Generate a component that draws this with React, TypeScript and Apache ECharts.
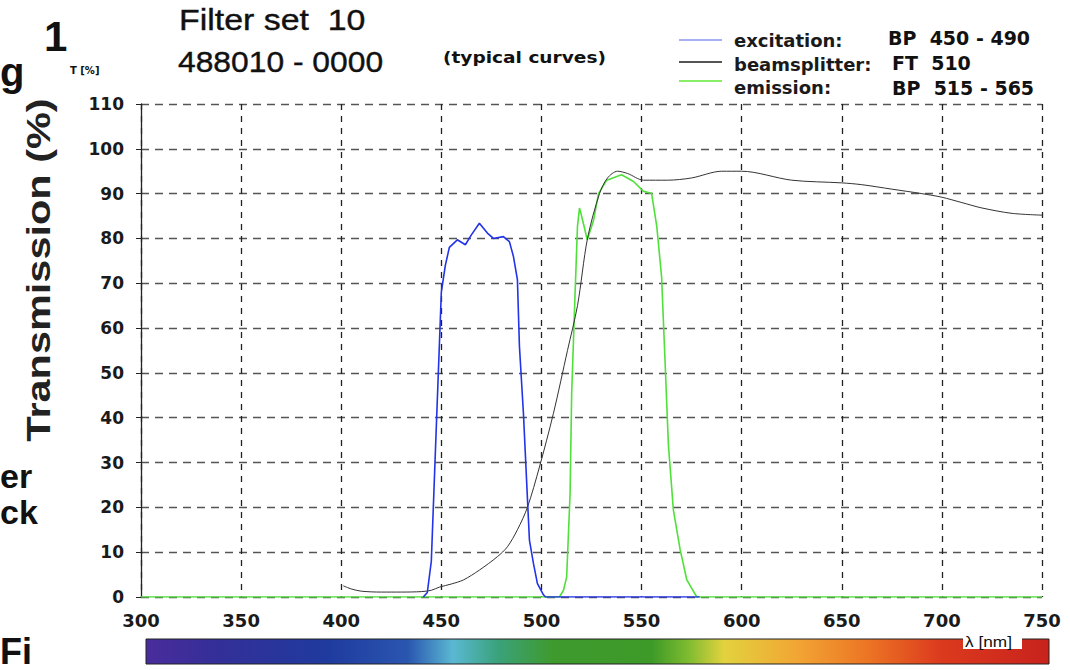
import React, { useEffect, useRef } from "react";
import * as echarts from "echarts";

const xTicks = [300, 350, 400, 450, 500, 550, 600, 650, 700, 750];
const yTicks = [0, 10, 20, 30, 40, 50, 60, 70, 80, 90, 100, 110];

const exWl = [441, 443, 445, 447, 449, 450, 452, 454, 458, 462, 465, 469, 473, 476, 481, 484, 486, 488, 489, 491, 493, 494, 496, 498, 501, 502, 579];
const exT = [0, 1, 8, 32, 56, 68, 74, 78, 79.7, 78.6, 80.8, 83.4, 81.2, 80, 80.4, 79.3, 76, 70.8, 56, 41, 22, 12.7, 7.5, 3, 0.5, 0, 0];

const bsWl = [401, 405, 410, 420, 430, 440, 445, 449, 455, 461, 469, 478, 483, 488, 493, 499, 506, 513, 518, 523, 529, 533, 538, 543, 551, 563, 575, 590, 600, 625, 650, 660, 675, 690, 700, 710, 720, 735, 750];
const bsT = [2.5, 1.8, 1.3, 1.1, 1.1, 1.2, 1.5, 2.2, 2.9, 3.8, 6, 9, 11.2, 15, 20, 29, 41, 55, 65, 80, 90, 93.5, 95, 94.5, 93, 93, 93.5, 95, 95, 93, 92.4, 92, 91, 90, 89.2, 88, 86.8, 85.6, 85.2];

const emWl = [300, 509, 511, 512.6, 514.3, 515.1, 516.8, 518, 519, 520.1, 522.9, 526, 528.5, 532.6, 540, 546, 551, 555, 557.6, 560, 561.7, 563.4, 565.9, 569.3, 572.6, 577.6, 750];
const emT = [0, 0, 1.5, 4.5, 23, 45.5, 67.8, 82.7, 86.8, 84.9, 79.7, 84, 90, 93, 94.2, 92.7, 90.5, 90.1, 82.7, 71.5, 53, 34, 19.4, 10.5, 3.8, 0, 0];

const legendNames = ["excitation:", "beamsplitter:", "emission:"];
const legendFilters = ["BP  450 - 490", "FT  510", "BP  515 - 565"];

const pairs = (xs: number[], ys: number[]) => xs.map((x, i) => [x, ys[i]]);

export default function App() {
  const ref = useRef<HTMLDivElement>(null);
  useEffect(() => {
    const chart = echarts.init(ref.current!, null, { renderer: "svg" });
    const font = "Liberation Sans, Arial, sans-serif";
    const wide = "DejaVu Sans, Verdana, sans-serif";
    const legendColors = ["#a8b0f4", "#555555", "#88ee66"];
    const lineY = [40, 62, 81];
    const labelY = [40, 64, 87];
    const filterY = [38, 63, 88];
    const filterX = [888, 892, 892];
    const graphics: any[] = [];
    legendNames.forEach((n, i) => {
      graphics.push({ type: "line", shape: { x1: 679, y1: lineY[i], x2: 722, y2: lineY[i] }, style: { stroke: legendColors[i], lineWidth: 2 } });
      graphics.push({ type: "text", x: 734, y: labelY[i], style: { text: n, font: `bold 18px ${wide}`, fill: "#1a1a1a", textVerticalAlign: "middle" } });
      graphics.push({ type: "text", x: filterX[i], y: filterY[i], style: { text: legendFilters[i], font: `bold 19px ${wide}`, fill: "#111", textVerticalAlign: "middle" } });
    });
    graphics.push(
      { type: "text", x: 179, y: 5, scaleX: 1.13, style: { text: "Filter set  10", font: `30px ${font}`, fill: "#111", stroke: "#111", lineWidth: 0.4 } },
      { type: "text", x: 178, y: 47, scaleX: 1.06, style: { text: "488010 - 0000", font: `30px ${font}`, fill: "#111", stroke: "#111", lineWidth: 0.4 } },
      { type: "text", x: 443, y: 49, scaleX: 1.16, style: { text: "(typical curves)", font: `bold 16px ${wide}`, fill: "#111" } },
      { type: "text", x: 70, y: 65, style: { text: "T [%]", font: `bold 10px ${wide}`, fill: "#111" } },
      { type: "text", x: 44, y: 15, style: { text: "1", font: `bold 42px ${font}`, fill: "#111" } },
      { type: "text", x: 0, y: 52, style: { text: "g", font: `bold 40px ${font}`, fill: "#111" } },
      { type: "text", x: 0, y: 459, style: { text: "er", font: `bold 34px ${font}`, fill: "#111" } },
      { type: "text", x: 0, y: 495, style: { text: "ck", font: `bold 34px ${font}`, fill: "#111" } },
      { type: "text", x: 0, y: 633, style: { text: "Fi", font: `bold 36px ${font}`, fill: "#111" } },
      { type: "text", x: 38, y: 270, rotation: Math.PI / 2, scaleX: 1.22, style: { text: "Transmission (%)", font: `bold 34px ${font}`, fill: "#222", textAlign: "center", textVerticalAlign: "middle" } },
      {
        type: "rect", shape: { x: 146, y: 639, width: 903, height: 25 },
        style: {
          stroke: "#222", lineWidth: 1,
          fill: new echarts.graphic.LinearGradient(0, 0, 1, 0, [
            { offset: 0, color: "#4a2c9c" },
            { offset: 0.08, color: "#332f98" },
            { offset: 0.2, color: "#1f3a9e" },
            { offset: 0.29, color: "#2a56b0" },
            { offset: 0.34, color: "#5ab8d2" },
            { offset: 0.39, color: "#3aa27a" },
            { offset: 0.45, color: "#3f9a2e" },
            { offset: 0.56, color: "#3d9a28" },
            { offset: 0.6, color: "#7dbb30" },
            { offset: 0.64, color: "#e2d23e" },
            { offset: 0.72, color: "#f2a634" },
            { offset: 0.8, color: "#ec7424" },
            { offset: 0.88, color: "#dc3a1e" },
            { offset: 1, color: "#c8221c" },
          ]),
        },
      },
      { type: "rect", shape: { x: 963, y: 632, width: 59, height: 17 }, style: { fill: "#fff" } },
      { type: "text", x: 965, y: 641, scaleX: 1.15, style: { text: "λ [nm]", font: `15px ${font}`, fill: "#111", textVerticalAlign: "middle" } }
    );

    chart.setOption({
      animation: false,
      backgroundColor: "#fff",
      grid: { left: 141, right: 28, top: 104, bottom: 73, containLabel: false },
      xAxis: {
        type: "value", min: 300, max: 750, interval: 50,
        axisLine: { show: false },
        axisTick: { show: false },
        axisLabel: { fontFamily: wide, fontWeight: "bold", fontSize: 18, color: "#1a1a1a", margin: 14, formatter: (v: number) => (xTicks.includes(v) ? String(v) : "") },
        splitLine: { show: true, lineStyle: { color: "#222", type: [6, 6], width: 1.3 } },
      },
      yAxis: {
        type: "value", min: 0, max: 110, interval: 10,
        axisLine: { show: true, lineStyle: { color: "#222", width: 1.3 } },
        axisTick: { show: true, length: 5, lineStyle: { color: "#222" } },
        axisLabel: { fontFamily: wide, fontWeight: "bold", fontSize: 17, color: "#1a1a1a", margin: 17, formatter: (v: number) => (yTicks.includes(v) ? String(v) : "") },
        splitLine: { show: true, lineStyle: { color: "#555", type: [8, 6], width: 1.4 } },
      },
      series: [
        { type: "line", name: "emission", data: pairs(emWl, emT), showSymbol: false, symbol: "none", lineStyle: { color: "#4fe03a", width: 1.6 }, z: 3 },
        { type: "line", name: "beamsplitter", data: pairs(bsWl, bsT), showSymbol: false, symbol: "none", smooth: 0.3, lineStyle: { color: "#333", width: 1 }, z: 4 },
        { type: "line", name: "excitation", data: pairs(exWl, exT), showSymbol: false, symbol: "none", lineStyle: { color: "#2233e8", width: 1.6 }, z: 5 },
      ],
      graphic: graphics,
    });
    return () => chart.dispose();
  }, []);
  return <div ref={ref} style={{ width: 1070, height: 670, position: "absolute", left: 0, top: 0 }} />;
}
